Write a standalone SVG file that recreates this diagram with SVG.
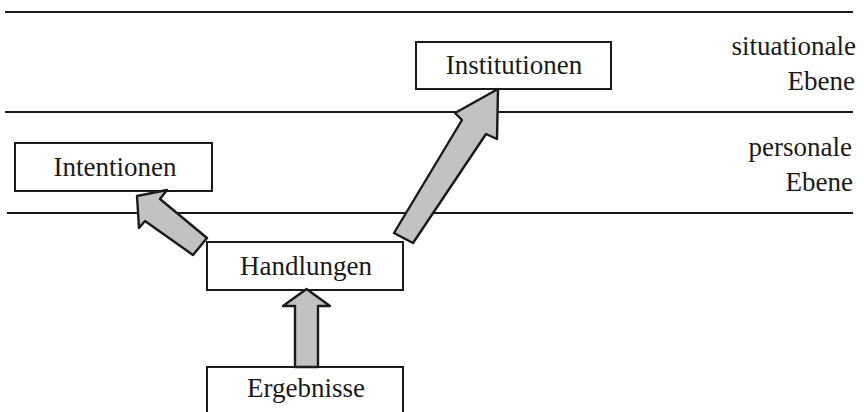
<svg xmlns="http://www.w3.org/2000/svg" width="864" height="412" viewBox="0 0 864 412">
  <style>
    .lvl { stroke: #1a1a1a; stroke-width: 2; fill: none; }
    .box { fill: #ffffff; stroke: #1a1a1a; stroke-width: 2; }
    .lbl { font-family: "Liberation Serif", "Times New Roman", serif; font-size: 27px; fill: #1a1a1a; }
    .arr { fill: #c2c2c2; stroke: #1a1a1a; stroke-width: 2.4; stroke-linejoin: round; }
  </style>
  <rect width="864" height="412" fill="#ffffff"/>
  <g id="levels">
    <line class="lvl" x1="5" y1="12" x2="853" y2="12"/>
    <line class="lvl" x1="5" y1="112" x2="853" y2="112"/>
    <line class="lvl" x1="7" y1="213" x2="853" y2="213"/>
    <text class="lbl" x="856" y="55" text-anchor="end">situationale</text>
    <text class="lbl" x="855" y="90" text-anchor="end">Ebene</text>
    <text class="lbl" x="852" y="156" text-anchor="end">personale</text>
    <text class="lbl" x="853" y="191" text-anchor="end">Ebene</text>
  </g>
  <g id="institutionen">
    <rect class="box" x="416" y="42" width="195" height="47"/>
    <text class="lbl" x="514" y="74" text-anchor="middle">Institutionen</text>
  </g>
  <g id="intentionen">
    <rect class="box" x="15" y="143" width="197" height="48"/>
    <text class="lbl" x="115" y="176" text-anchor="middle">Intentionen</text>
  </g>
  <g id="handlungen">
    <rect class="box" x="207" y="242" width="196" height="48"/>
    <text class="lbl" x="306" y="275" text-anchor="middle">Handlungen</text>
  </g>
  <g id="ergebnisse">
    <rect class="box" x="207" y="367" width="196" height="60"/>
    <text class="lbl" x="306" y="397" text-anchor="middle">Ergebnisse</text>
  </g>
  <g id="connectors">
    <polygon class="arr" points="137,196 167,190 160,199 207,238 193,255 145,221 139,228"/>
    <polygon class="arr" points="498,89 497,139 486,134 413,243 394,233 462,120 455,113"/>
    <polygon class="arr" points="306.5,289 330,306 318,306 318,367 295,367 295,306 283,306"/>
  </g>
</svg>
